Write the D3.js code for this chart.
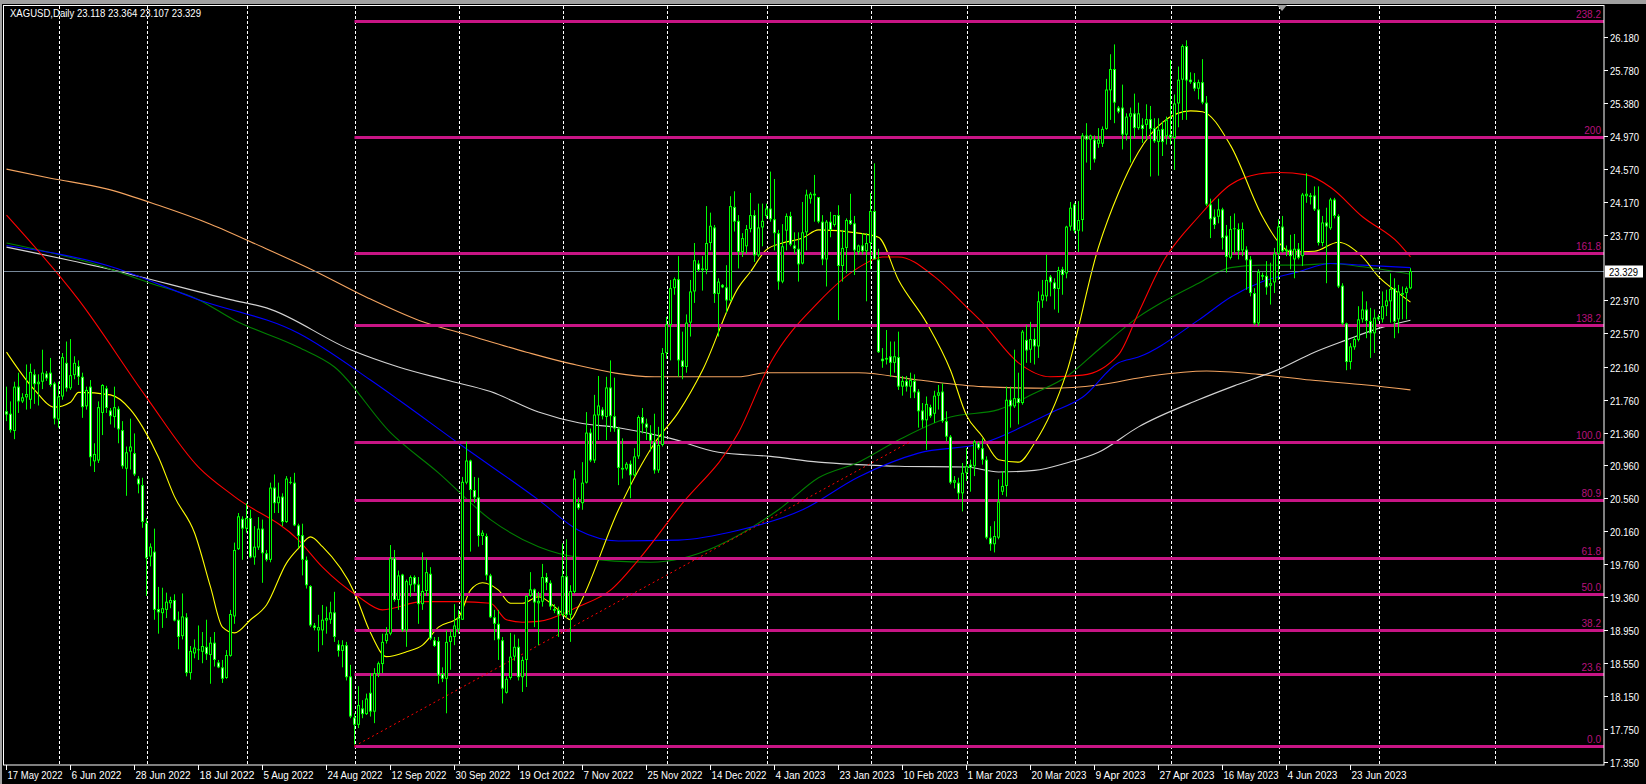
<!DOCTYPE html>
<html><head><meta charset="utf-8">
<script src="https://cdn.jsdelivr.net/npm/d3@7"></script>
<style>
html,body{margin:0;padding:0;background:#000;overflow:hidden;}
svg{display:block;}
text{font-family:"Liberation Sans","DejaVu Sans",Arial,sans-serif;}
</style></head><body>
<svg id="chart" width="1646" height="784"></svg>
<script>
// ---------------- DATA ----------------
const symbolTitle = "XAGUSD,Daily";
const lastQuote = [23.118, 23.364, 23.107, 23.329];

const open = [
21.62,21.59,21.38,21.92,21.74,21.79,21.76,22.07,21.95,21.98,
22.08,22.09,21.96,21.52,21.80,22.21,21.90,22.06,22.17,22.04,
21.68,21.92,21.01,21.02,21.60,21.90,21.63,21.55,21.65,21.39,
20.92,21.13,21.11,20.80,20.72,20.26,19.85,19.91,19.21,19.16,
19.20,19.28,19.32,19.08,18.88,19.11,18.43,18.67,18.72,18.69,
18.75,18.65,18.80,18.56,18.50,18.37,18.64,19.12,19.94,20.31,
20.19,20.32,19.84,19.96,20.19,19.89,19.81,20.69,20.50,20.58,
20.27,20.76,20.75,20.23,20.11,19.81,19.49,19.01,18.95,18.95,
19.07,19.08,19.17,18.78,18.70,18.77,18.39,17.89,17.80,18.00,
17.93,18.19,17.96,18.42,18.54,18.82,18.91,19.83,19.32,19.63,
18.95,19.50,19.60,19.51,19.27,19.43,19.64,18.83,18.82,18.42,
18.36,18.81,18.87,18.96,19.08,20.75,21.02,20.66,20.57,20.10,
20.10,19.62,19.11,19.03,18.83,18.19,18.37,18.63,18.75,18.38,
18.59,19.37,19.45,19.28,19.30,19.60,19.53,19.21,19.20,19.14,
19.61,19.14,19.42,20.50,20.50,20.75,21.36,21.02,21.57,21.64,
21.55,21.91,21.56,21.41,20.93,20.92,20.98,20.84,21.07,21.55,
21.47,21.35,21.25,20.90,21.21,22.33,22.67,23.12,23.23,22.24,
22.16,22.70,23.08,23.42,23.34,23.34,23.67,23.86,23.05,23.16,
23.13,22.97,24.11,23.94,23.56,23.63,23.84,24.01,23.52,23.86,
24.00,24.09,23.96,23.79,23.20,23.82,24.00,23.64,23.60,23.42,
23.80,24.21,24.27,24.23,23.93,23.47,23.93,23.89,24.01,23.39,
23.61,23.95,23.91,23.56,23.64,23.57,23.67,24.06,23.47,22.26,
22.25,22.29,22.21,22.28,21.92,21.99,21.92,21.99,21.86,21.63,
21.51,21.67,21.59,21.81,21.86,21.50,21.31,20.75,20.75,20.62,
20.87,20.97,20.95,21.23,21.17,21.03,20.08,20.00,20.08,20.64,
20.71,21.76,21.68,21.78,21.72,22.49,22.37,22.50,22.41,22.97,
23.02,23.26,23.19,23.11,23.35,23.30,23.87,24.14,23.82,23.95,
24.98,24.93,24.93,24.88,24.88,25.06,25.53,25.79,25.32,25.32,
24.99,25.21,25.25,25.07,25.11,25.11,25.18,25.07,24.90,25.06,
24.97,24.99,24.95,25.37,25.66,26.07,25.66,25.63,25.55,25.63,
25.38,24.14,23.99,23.99,24.08,23.76,23.49,23.84,23.84,23.58,
23.59,23.47,23.06,22.69,23.28,23.27,23.15,23.19,23.54,23.87,
23.57,23.59,23.47,23.60,23.51,24.24,24.25,24.25,24.08,23.67,
23.92,23.85,24.20,24.00,23.15,22.69,22.22,22.40,22.49,22.74,
22.86,22.72,22.57,22.77,22.74,22.90,22.96,23.12,22.74,23.06,
23.06,23.118];

const high = [
21.92,21.74,21.98,22.09,21.84,22.19,22.20,22.13,22.07,22.37,
22.11,22.27,21.98,21.98,22.33,22.47,22.50,22.29,22.24,22.09,
21.92,22.00,21.23,21.74,21.95,21.93,21.66,21.92,21.68,21.50,
21.19,21.53,21.35,20.83,20.81,20.32,20.01,20.19,19.48,19.47,
19.41,19.36,19.39,19.18,19.40,19.16,18.76,18.84,19.01,18.93,
19.08,18.87,18.93,18.59,18.59,18.71,19.20,20.02,20.38,20.34,
20.50,20.42,20.22,20.33,20.30,19.93,20.75,20.85,20.75,20.62,
20.83,20.82,20.87,20.25,20.25,19.85,19.50,19.04,19.14,19.26,
19.24,19.30,19.42,18.83,18.83,18.81,18.53,17.94,18.27,18.10,
18.18,18.43,18.49,18.57,18.91,18.99,19.99,19.93,19.68,19.64,
19.57,19.62,19.62,19.60,19.90,19.83,19.72,18.87,18.87,18.50,
18.95,18.95,19.27,19.20,20.82,21.25,21.03,20.82,20.81,20.17,
20.13,19.64,19.20,19.20,18.87,18.39,18.92,18.90,18.85,18.63,
19.38,19.66,19.46,19.42,19.76,19.65,19.56,19.27,19.24,20.01,
20.06,19.50,20.90,20.57,21.00,21.61,21.41,21.82,22.05,21.67,
22.04,22.24,22.03,21.43,21.29,21.00,21.02,21.17,21.57,21.66,
21.53,21.45,21.59,21.43,22.39,22.77,23.22,23.25,23.51,22.59,
22.80,23.22,23.67,23.46,23.51,24.12,24.04,23.89,23.24,23.17,
23.40,24.24,24.30,24.01,23.79,23.89,24.28,24.07,24.15,24.15,
24.15,24.54,24.45,23.83,23.90,24.03,24.05,23.80,23.80,24.17,
24.32,24.29,24.50,24.23,24.01,23.95,24.05,24.01,24.13,23.83,
23.97,24.27,24.00,23.65,23.79,23.79,24.28,24.64,23.60,22.39,
22.61,22.47,22.47,22.59,22.05,22.05,22.09,22.07,21.89,21.72,
21.80,21.70,21.87,21.94,21.96,21.62,21.33,20.83,20.81,20.99,
21.17,21.03,21.27,21.25,21.29,21.07,20.22,20.28,20.79,20.89,
21.92,21.92,22.37,22.09,22.61,22.67,22.71,22.63,23.08,23.22,
23.53,23.28,23.24,23.38,23.38,23.88,24.17,24.16,24.18,25.01,
25.13,24.99,24.98,25.07,25.09,25.67,25.97,26.09,25.34,25.60,
25.25,25.32,25.49,25.38,25.19,25.36,25.34,25.19,25.19,25.15,
25.21,25.90,25.48,25.82,26.09,26.14,25.75,25.74,25.66,25.91,
25.46,24.21,24.08,24.21,24.10,23.89,24.00,24.03,23.91,23.92,
23.63,23.51,23.12,23.35,23.31,23.45,23.43,23.61,23.96,24.00,
23.64,23.77,23.78,23.67,24.28,24.52,24.28,24.36,24.36,24.00,
24.10,24.22,24.22,24.02,23.18,22.70,22.45,22.53,22.90,23.08,
22.96,22.88,22.86,22.80,23.08,23.10,23.30,23.24,23.16,23.14,
23.14,23.364];

const low = [
21.50,21.36,21.28,21.60,21.72,21.64,21.65,21.71,21.69,21.89,
21.99,21.92,21.46,21.42,21.76,21.86,21.88,22.01,21.94,21.54,
21.64,20.95,20.88,20.99,21.33,21.60,21.46,21.42,21.23,20.92,
20.59,20.91,20.83,20.62,20.20,19.37,19.73,19.08,18.91,18.98,
19.10,19.22,19.06,18.72,18.84,18.39,18.35,18.61,18.59,18.55,
18.59,18.30,18.51,18.49,18.31,18.36,18.63,19.03,19.93,19.81,
20.14,19.83,19.75,19.93,19.53,19.79,19.78,20.38,20.38,20.22,
20.26,20.73,20.22,19.95,19.62,19.46,18.99,18.95,18.69,18.77,
18.91,19.03,18.81,18.63,18.50,18.34,17.88,17.56,17.76,17.88,
17.92,17.90,17.82,18.38,18.43,18.79,18.89,19.30,19.20,18.93,
18.75,19.36,19.42,19.03,19.20,19.37,18.83,18.75,18.30,18.32,
17.94,18.47,18.77,18.91,19.08,20.73,19.91,20.50,19.97,19.99,
19.56,19.10,18.83,18.59,18.06,18.18,18.35,18.58,18.34,18.20,
18.26,19.36,18.99,18.77,19.24,19.44,19.20,19.16,18.87,19.12,
19.10,18.81,19.40,20.42,20.42,20.74,21.00,20.99,21.27,21.52,
21.27,21.37,21.37,20.72,20.80,20.90,20.56,20.82,21.04,21.35,
21.27,21.13,20.86,20.87,21.19,22.26,22.24,23.04,22.04,22.01,
22.09,22.53,22.94,23.32,23.09,23.29,23.58,22.94,22.53,23.12,
22.82,22.96,23.81,23.36,23.50,23.54,23.80,23.44,23.50,23.63,
23.97,23.93,23.58,23.10,23.18,23.58,23.63,23.54,23.20,23.41,
23.58,24.15,23.93,23.91,23.40,23.14,23.74,23.87,22.73,23.20,
23.30,23.89,23.28,23.53,23.53,22.96,23.35,23.47,22.33,22.15,
22.19,22.04,22.09,21.88,21.81,21.86,21.78,21.78,21.42,21.42,
21.15,21.54,21.48,21.64,21.48,21.25,20.73,20.68,20.54,20.40,
20.77,20.64,20.83,21.15,20.97,20.06,19.92,19.90,20.06,20.60,
20.58,21.42,21.66,21.46,21.70,22.21,22.21,22.19,22.27,22.88,
22.96,23.02,22.86,22.82,23.04,23.24,23.82,23.79,23.56,23.81,
24.65,24.56,24.65,24.83,24.84,25.05,25.17,25.13,25.25,24.81,
24.92,24.65,24.95,25.05,24.89,24.93,24.48,24.89,24.49,24.73,
24.87,24.87,24.56,25.08,25.17,25.17,25.61,25.52,25.42,25.36,
24.12,23.73,23.84,23.91,23.59,23.31,23.47,23.54,23.47,23.51,
23.10,23.02,22.67,22.66,23.22,23.04,22.92,23.06,23.22,23.55,
23.51,23.35,23.24,23.47,23.39,24.16,24.14,24.06,23.64,23.63,
23.18,23.83,23.97,23.12,22.67,22.12,22.13,22.37,22.47,22.70,
22.51,22.27,22.33,22.72,22.70,22.78,22.70,22.51,22.57,22.74,
22.74,23.107];

const close = [
21.58,21.39,21.92,21.74,21.79,21.83,22.10,21.95,21.98,22.09,
22.02,21.94,21.53,21.80,22.28,21.90,22.06,22.21,22.04,21.67,
21.88,21.06,21.10,21.67,21.94,21.66,21.56,21.67,21.40,20.95,
21.12,21.19,20.85,20.73,20.27,19.83,19.97,19.20,19.17,19.22,
19.30,19.32,19.07,18.87,19.12,18.43,18.70,18.74,18.71,18.76,
18.66,18.80,18.59,18.50,18.36,18.65,19.15,19.93,20.34,20.19,
20.32,19.84,19.97,20.19,19.89,19.81,20.69,20.50,20.58,20.27,
20.80,20.75,20.23,20.10,19.81,19.50,19.01,18.98,18.99,19.08,
19.10,19.17,18.87,18.70,18.77,18.38,17.90,17.80,18.04,17.93,
18.12,17.96,18.43,18.55,18.81,18.91,19.83,19.32,19.62,18.95,
19.55,19.60,19.51,19.27,19.43,19.66,18.85,18.76,18.40,18.36,
18.81,18.88,19.01,19.10,20.76,21.02,20.66,20.57,20.10,20.14,
19.62,19.11,19.03,18.84,18.24,18.36,18.63,18.75,18.38,18.59,
19.37,19.45,19.29,19.31,19.60,19.53,19.24,19.19,19.14,19.61,
19.14,19.43,20.80,20.44,20.75,21.36,21.02,21.58,21.69,21.56,
21.91,21.56,21.41,20.93,20.91,20.98,20.84,21.07,21.55,21.47,
21.42,21.26,20.90,21.21,22.33,22.68,23.12,23.23,22.24,22.16,
22.70,23.08,23.46,23.34,23.36,23.67,23.88,23.05,23.20,23.13,
22.97,24.12,23.93,23.56,23.73,23.84,24.01,23.52,23.86,23.94,
24.09,23.96,23.79,23.20,23.63,24.00,23.65,23.60,23.41,23.80,
24.26,24.27,24.25,23.93,23.47,23.93,23.83,24.01,23.39,23.61,
23.95,23.90,23.58,23.64,23.57,23.67,24.06,23.47,22.34,22.23,
22.27,22.21,22.29,21.92,21.99,21.92,22.00,21.85,21.62,21.51,
21.71,21.56,21.81,21.85,21.50,21.31,20.75,20.78,20.62,20.87,
20.95,20.93,21.25,21.17,21.03,20.08,20.00,20.10,20.52,20.71,
21.76,21.68,21.78,21.72,22.59,22.36,22.50,22.41,22.96,23.04,
23.22,23.19,23.11,23.34,23.28,23.87,24.10,23.82,23.95,24.98,
24.93,24.98,24.69,24.93,25.06,25.54,25.79,25.38,25.27,24.99,
25.21,25.25,25.07,25.25,25.06,25.18,25.06,24.91,25.05,24.90,
25.17,24.95,25.37,25.66,26.07,25.65,25.63,25.55,25.63,25.38,
24.14,23.96,23.89,24.08,23.73,23.50,23.84,23.85,23.57,23.84,
23.46,23.06,22.69,23.32,23.26,23.13,23.18,23.54,23.87,23.57,
23.59,23.51,23.60,23.49,24.26,24.27,24.23,24.08,23.67,23.92,
23.87,24.20,24.00,23.14,22.69,22.22,22.41,22.50,22.74,22.86,
22.72,22.57,22.76,22.74,22.90,22.97,23.11,22.71,23.08,23.04,
23.12,23.329];

// time axis: label text and the bar index it belongs to
const dateLabels = ["17 May 2022","6 Jun 2022","28 Jun 2022","18 Jul 2022","5 Aug 2022","24 Aug 2022",
  "12 Sep 2022","30 Sep 2022","19 Oct 2022","7 Nov 2022","25 Nov 2022","14 Dec 2022","4 Jan 2023",
  "23 Jan 2023","10 Feb 2023","1 Mar 2023","20 Mar 2023","9 Apr 2023","27 Apr 2023","16 May 2023",
  "4 Jun 2023","23 Jun 2023"];
const dateLabelBars = [0,16,32,48,64,80,96,112,128,144,160,176,192,208,224,240,256,272,288,304,320,336];
// vertical grid (month starts), bar index
const monthStartBars = [13,35,60,87,113,139,165,190,216,240,267,291,318,343,372];

const priceTicks = [26.180,25.780,25.380,24.970,24.570,24.170,23.770,22.970,22.570,22.160,
  21.760,21.360,20.960,20.560,20.160,19.760,19.360,18.950,18.550,18.150,17.750,17.350];

// Fibonacci retracement
const fibLevels = [0, 23.6, 38.2, 50.0, 61.8, 80.9, 100.0, 138.2, 161.8, 200, 238.2];
const fibLabels = ["0.0","23.6","38.2","50.0","61.8","80.9","100.0","138.2","161.8","200","238.2"];
const fibLow = 17.54, fibHigh = 21.25;
const fibStartBar = 87, fibEndBar = 226;

// moving averages: [bar index, value]
const maYellow = [[0,22.34],[7,21.88],[12,21.67],[16,21.73],[18,21.85],[26,21.82],[31,21.64],[34,21.43],[38,21.06],[42,20.58],[47,20.14],[51,19.48],[54,18.99],[57,18.92],[61,19.08],[65,19.26],[70,19.77],[73,19.95],[76,20.09],[79,19.97],[87,19.41],[91,18.92],[95,18.63],[100,18.69],[104,18.77],[108,18.99],[113,19.11],[116,19.44],[119,19.53],[123,19.44],[126,19.28],[129,19.28],[133,19.36],[138,19.20],[141,19.08],[143,19.24],[153,20.42],[162,21.23],[168,21.61],[174,22.12],[183,23.13],[186,23.32],[190,23.59],[194,23.67],[199,23.73],[203,23.83],[213,23.79],[218,23.74],[223,23.22],[230,22.70],[236,22.12],[240,21.57],[244,21.31],[248,21.03],[253,21.00],[257,21.23],[265,22.09],[273,23.62],[278,24.28],[283,24.78],[289,25.14],[296,25.28],[299,25.27],[306,24.86],[314,23.99],[318,23.68],[321,23.56],[327,23.57],[333,23.68],[339,23.50],[343,23.26],[348,23.06],[351,22.95]];
const maRed = [[0,24.01],[18,22.98],[35,21.79],[48,20.94],[57,20.58],[73,20.05],[79,19.72],[88,19.36],[94,19.20],[104,19.30],[113,19.30],[121,19.28],[125,19.08],[129,19.05],[133,19.06],[143,19.24],[151,19.44],[158,19.81],[168,20.44],[183,21.36],[191,22.21],[203,22.95],[213,23.37],[219,23.50],[223,23.50],[232,23.26],[240,22.89],[244,22.70],[253,22.21],[261,22.04],[269,22.06],[278,22.31],[283,22.82],[289,23.43],[298,23.99],[306,24.38],[313,24.51],[318,24.53],[325,24.50],[331,24.35],[339,23.99],[348,23.67],[351,23.50]];
const maGreen = [[0,23.67],[23,23.40],[36,23.18],[48,22.98],[57,22.73],[73,22.40],[82,22.16],[96,21.36],[108,20.87],[121,20.30],[133,19.97],[143,19.84],[161,19.78],[193,20.42],[203,20.81],[213,21.00],[223,21.27],[236,21.55],[248,21.64],[257,21.84],[265,22.04],[273,22.37],[283,22.77],[289,22.95],[298,23.18],[306,23.37],[314,23.40],[323,23.40],[331,23.42],[339,23.38],[351,23.29]];
const maBlue = [[0,23.64],[25,23.40],[48,22.98],[73,22.57],[91,22.00],[98,21.76],[113,21.23],[133,20.54],[143,20.17],[153,20.04],[168,20.05],[183,20.17],[199,20.42],[213,20.82],[228,21.11],[244,21.23],[261,21.60],[269,21.79],[278,22.21],[283,22.28],[298,22.73],[306,23.01],[314,23.20],[323,23.32],[331,23.42],[339,23.40],[351,23.37]];
const maWhite = [[0,23.62],[25,23.36],[56,22.98],[65,22.88],[86,22.37],[98,22.16],[110,22.00],[121,21.86],[133,21.61],[143,21.48],[153,21.42],[166,21.29],[178,21.12],[191,21.07],[203,21.00],[213,20.97],[223,20.95],[240,20.94],[248,20.88],[257,20.90],[265,20.99],[273,21.12],[283,21.43],[298,21.76],[308,21.95],[318,22.13],[327,22.34],[335,22.49],[343,22.63],[351,22.73]];
const maOrange = [[0,24.57],[11,24.46],[25,24.33],[38,24.13],[51,23.90],[64,23.62],[77,23.33],[90,23.01],[103,22.73],[116,22.54],[130,22.34],[141,22.20],[162,22.04],[183,22.04],[190,22.09],[213,22.09],[228,22.00],[244,21.92],[261,21.90],[273,21.94],[286,22.05],[300,22.11],[313,22.07],[326,22.00],[340,21.94],[351,21.88]];

// ---------------- DRAW ----------------
const W = 1646, H = 784;
const plot = {left: 4, right: 1604, top: 6, bottom: 765};
const svg = d3.select("#chart");
const n = close.length;

const x = d3.scaleLinear().domain([0, 351]).range([6.5, 1410.5]);
const y = d3.scaleLinear().domain([17.31, 26.57]).range([765, 5]);

svg.append("rect").attr("x",0).attr("y",0).attr("width",W).attr("height",H).attr("fill","#000");
// window borders
svg.append("rect").attr("x",0).attr("y",0).attr("width",W).attr("height",4).attr("fill","#a0a0a0");
svg.append("rect").attr("x",0).attr("y",0).attr("width",2).attr("height",H).attr("fill","#a0a0a0");

const defs = svg.append("defs");
defs.append("clipPath").attr("id","plotclip").append("rect")
  .attr("x",plot.left).attr("y",plot.top).attr("width",plot.right-plot.left).attr("height",plot.bottom-plot.top);

const g = svg.append("g").attr("clip-path","url(#plotclip)");

// vertical grid
g.selectAll("line.grid").data(monthStartBars).enter().append("line")
  .attr("x1", d => Math.round(x(d)) + 0.5).attr("x2", d => Math.round(x(d)) + 0.5)
  .attr("y1", plot.top).attr("y2", plot.bottom)
  .attr("stroke","#ffffff").attr("stroke-width",1).attr("stroke-dasharray","3,2");

// moving averages
const maLine = d3.line().x(d => x(d[0])).y(d => y(d[1])).curve(d3.curveMonotoneX);
const mas = [
  {data: maOrange, color: "#F4A460"},
  {data: maWhite, color: "#D3D3D3"},
  {data: maGreen, color: "#008000"},
  {data: maBlue, color: "#0000FF"},
  {data: maRed, color: "#FF0000"},
  {data: maYellow, color: "#FFFF00"}
];
mas.forEach(m => {
  g.append("path").attr("d", maLine(m.data)).attr("fill","none")
    .attr("stroke", m.color).attr("stroke-width",1.1);
});

// Fibonacci levels
const fibVal = r => fibLow + (fibHigh - fibLow) * r / 100;
fibLevels.forEach((r, k) => {
  const yy = Math.round(y(fibVal(r)));
  g.append("rect").attr("x", x(fibStartBar)).attr("y", yy - 1)
    .attr("width", plot.right - x(fibStartBar)).attr("height", 3).attr("fill","#C71585");
  g.append("text").attr("x", plot.right - 3).attr("y", yy - 3)
    .attr("text-anchor","end").attr("font-size", 10).attr("fill","#B8127C").text(fibLabels[k]);
});
// fib trend line (dotted red)
g.append("line").attr("x1", x(fibStartBar)).attr("y1", y(fibLow))
  .attr("x2", x(fibEndBar)).attr("y2", y(fibHigh))
  .attr("stroke","#FF0000").attr("stroke-width",1).attr("stroke-dasharray","2,3");

// current price line
const yLast = Math.round(y(lastQuote[3])) + 0.5;
g.append("line").attr("x1",plot.left).attr("x2",plot.right).attr("y1",yLast).attr("y2",yLast)
  .attr("stroke","#778899").attr("stroke-width",1);

// candles
const cg = g.append("g");
const idx = d3.range(n);
cg.selectAll("line.wick").data(idx).enter().append("line")
  .attr("x1", i => x(i)).attr("x2", i => x(i))
  .attr("y1", i => y(high[i])).attr("y2", i => y(low[i]))
  .attr("stroke","#00FF00").attr("stroke-width",1);
cg.selectAll("rect.body").data(idx).enter().append("rect")
  .attr("x", i => x(i) - 1.5).attr("width", 3)
  .attr("y", i => Math.min(y(open[i]), y(close[i])))
  .attr("height", i => Math.max(1, Math.abs(y(open[i]) - y(close[i]))))
  .attr("fill","#00FF00");
cg.selectAll("rect.inner").data(idx.filter(i => Math.abs(y(open[i]) - y(close[i])) > 2)).enter().append("rect")
  .attr("x", i => x(i) - 0.5).attr("width", 1)
  .attr("y", i => Math.min(y(open[i]), y(close[i])) + 1)
  .attr("height", i => Math.abs(y(open[i]) - y(close[i])) - 2)
  .attr("fill", i => close[i] < open[i] ? "#FFFFFF" : "#000000");

// frame
svg.append("rect").attr("x",3.5).attr("y",5.5).attr("width",plot.right-3.5).attr("height",plot.bottom-5.5)
  .attr("fill","none").attr("stroke","#ffffff").attr("stroke-width",1);

// price axis
const ya = svg.append("g");
priceTicks.forEach(p => {
  const yy = Math.round(y(p)) + 0.5;
  ya.append("line").attr("x1",plot.right).attr("x2",plot.right+4).attr("y1",yy).attr("y2",yy).attr("stroke","#fff");
  ya.append("text").attr("x", plot.right + 6).attr("y", yy + 4).attr("font-size",10.5).attr("fill","#fff")
    .attr("textLength",29).attr("lengthAdjust","spacingAndGlyphs").text(d3.format(".3f")(p));
});
// last price label
ya.append("rect").attr("x", plot.right + 1).attr("y", yLast - 6).attr("width", 38).attr("height", 12).attr("fill","#fff");
ya.append("text").attr("x", plot.right + 5).attr("y", yLast + 4).attr("font-size",10.5).attr("fill","#000")
  .attr("textLength",29).attr("lengthAdjust","spacingAndGlyphs").text(d3.format(".3f")(lastQuote[3]));

// time axis
const xa = svg.append("g");
dateLabelBars.forEach((b, k) => {
  const xx = Math.round(x(b)) - 0.5;
  xa.append("line").attr("x1",xx).attr("x2",xx).attr("y1",plot.bottom).attr("y2",plot.bottom+5).attr("stroke","#fff");
  xa.append("text").attr("x", xx + 1).attr("y", 779).attr("font-size",10.5).attr("fill","#fff")
    .attr("textLength", dateLabels[k].length * 5.0).attr("lengthAdjust","spacingAndGlyphs").text(dateLabels[k]);
});

// title
svg.append("text").attr("x",10).attr("y",17).attr("font-size",10.5).attr("fill","#fff")
  .attr("textLength",191).attr("lengthAdjust","spacingAndGlyphs")
  .text(symbolTitle + "  " + lastQuote.map(d3.format(".3f")).join(" "));

// chart shift marker
svg.append("path").attr("d","M1277,5 L1287,5 L1282,11 Z").attr("fill","#a0a0a0");
</script>
</body></html>
